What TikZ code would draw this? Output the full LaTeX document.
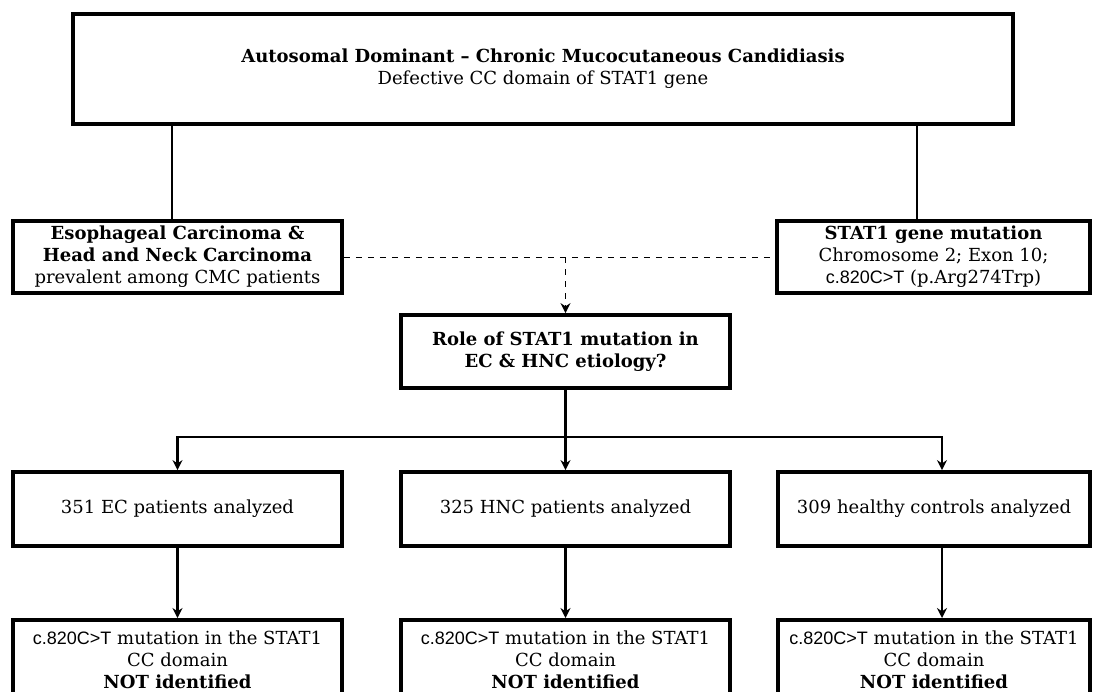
\documentclass[tikz,border=0pt]{standalone}
\usepackage{fontspec}
\setmainfont{DejaVu Serif}
\newfontfamily\sansfnt{Liberation Sans}
\usetikzlibrary{arrows.meta,positioning}

\newcommand{\mut}{{\sansfnt c.820C>T}}

\begin{document}
\begin{tikzpicture}[
  x=0.5pt, y=-0.5pt,
  font=\fontsize{9}{11}\selectfont,
  block/.style={draw, line width=1.9pt, align=center, inner sep=2pt,
               minimum width=164.5pt, minimum height=37pt},
  link/.style={line width=1.3pt},
  arr/.style={-{Stealth[length=5pt,width=5pt]}, line width=1.3pt},
  hint/.style={dashed, line width=0.4pt}
]
\useasboundingbox (0,0) rectangle (1097,691);
\node[block, minimum width=470pt, minimum height=55pt] (top) at (543,69)
  {\textbf{Autosomal Dominant – Chronic Mucocutaneous Candidiasis}\\Defective CC domain of STAT1 gene};
\node[block, minimum height=36pt] (eso) at (177.5,257)
  {\textbf{Esophageal Carcinoma \&}\\\textbf{Head and Neck Carcinoma}\\prevalent among CMC patients};
\node[block, minimum width=156.5pt, minimum height=36pt] (stat) at (933.5,257)
  {\textbf{STAT1 gene mutation}\\Chromosome 2; Exon 10;\\\mut{} (p.Arg274Trp)};
\node[block, minimum height=36.5pt] (role) at (565.5,351.5)
  {\textbf{Role of STAT1 mutation in}\\\textbf{EC \& HNC etiology?}};
\node[block] (ec) at (177.5,509) {351 EC patients analyzed};
\node[block] (hnc) at (565.5,509) {325 HNC patients analyzed};
\node[block, minimum width=156pt] (hc) at (934,509) {309 healthy controls analyzed};
\node[block, minimum height=40pt, anchor=north] (ecres) at (177.5,618)
  {\mut{} mutation in the STAT1\\CC domain\\\textbf{NOT identified}};
\node[block, minimum height=40pt, anchor=north] (hncres) at (565.5,618)
  {\mut{} mutation in the STAT1\\CC domain\\\textbf{NOT identified}};
\node[block, minimum width=156pt, minimum height=40pt, anchor=north] (hcres) at (934,618)
  {\mut{} mutation in the STAT1\\CC domain\\\textbf{NOT identified}};
% top box to the two findings
\draw[link] ([xshift=-2.75pt]eso.north) -- ([xshift=-2.75pt]eso.north |- top.south);
\draw[link] ([xshift=-8.25pt]stat.north) -- ([xshift=-8.25pt]stat.north |- top.south);
% dashed join and question
\draw[hint] (eso.east) -- (stat.west);
\coordinate (join) at (role.north |- eso.east);
\draw[arr, dashed, line width=0.8pt] (join) -- (role.north);
% split to the three groups
\coordinate (bus) at ([yshift=-23.5pt]role.south);
\draw[arr] (role.south) -- (hnc.north);
\draw[arr] (bus) -| (ec.north);
\draw[arr] (bus) -| ([xshift=4pt]hc.north);
\draw[arr] (ec) -- (ecres);
\draw[arr] (hnc) -- (hncres);
\draw[arr] ([xshift=4pt]hc.south) -- ([xshift=4pt]hcres.north);
\end{tikzpicture}
\end{document}
